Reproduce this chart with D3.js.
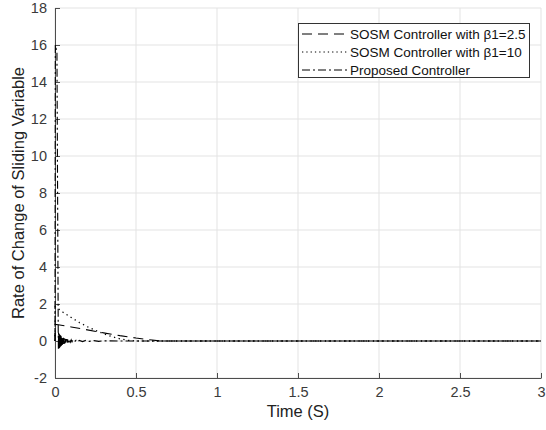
<!DOCTYPE html>
<html><head><meta charset="utf-8">
<script src="https://cdn.jsdelivr.net/npm/d3@7"></script>
<style>body{margin:0;background:#fff}svg{display:block}text{font-family:"Liberation Sans",Arial,sans-serif}</style>
</head><body>
<svg id="c" width="546" height="430"></svg>
<script>
const xTicks = [0, 0.5, 1, 1.5, 2, 2.5, 3];
const yTicks = [-2, 0, 2, 4, 6, 8, 10, 12, 14, 16, 18];
const seriesNames = ["SOSM Controller with \u03b21=2.5", "SOSM Controller with \u03b21=10", "Proposed Controller"];
// beta1 = 2.5 (dashed)
const dashedT = [0, 0.001, 0.02, 0.1, 0.2, 0.3, 0.4, 0.5, 0.6, 0.65, 1, 2, 3];
const dashedV = [0, 0.9, 0.88, 0.76, 0.6, 0.44, 0.29, 0.16, 0.05, 0, 0, 0, 0];
// beta1 = 10 (dotted)
const dottedT = [0, 0.001, 0.02, 0.05, 0.1, 0.15, 0.2, 0.25, 0.3, 0.35, 0.4, 0.45, 0.5, 1, 2, 3];
const dottedV = [0, 1.85, 1.75, 1.55, 1.27, 1.0, 0.77, 0.57, 0.39, 0.24, 0.12, 0.04, 0, 0, 0, 0];
// proposed (dash-dot) with chattering near zero
const propT = [0, 0.002, 0.012, 0.02, 0.021, 0.022, 0.023, 0.024, 0.025, 0.026, 0.027, 0.028, 0.029, 0.030, 0.031, 0.032, 0.033, 0.034, 0.035, 0.036, 0.037, 0.038, 0.039, 0.040, 0.042, 0.044, 0.046, 0.048, 0.050, 0.052, 0.054, 0.056, 0.058, 0.060, 0.063, 0.066, 0.069, 0.072, 0.075, 0.078, 0.081, 0.084, 0.087, 0.090, 0.095, 0.100, 0.105, 0.110, 0.120, 0.130, 0.140, 0.150, 0.170, 0.190, 0.210, 0.240, 0.270, 0.300, 0.4, 1, 2, 3];
const propV = [0, 16, 15.6, 0.45, -0.5, 0.45, -0.42, 0.42, -0.4, 0.38, -0.38, 0.36, -0.35, 0.34, -0.33, 0.32, -0.31, 0.3, -0.29, 0.28, -0.27, 0.26, -0.25, 0.24, -0.22, 0.21, -0.2, 0.19, -0.18, 0.17, -0.16, 0.15, -0.14, 0.13, -0.12, 0.11, -0.1, 0.1, -0.09, 0.09, -0.08, 0.08, -0.07, 0.07, -0.06, 0.06, -0.05, 0.05, -0.04, 0.04, -0.04, 0.03, -0.03, 0.03, -0.02, 0.02, -0.02, 0.01, 0, 0, 0, 0];

const svg = d3.select("#c");
const x = d3.scaleLinear().domain([0, 3]).range([55, 541]);
const y = d3.scaleLinear().domain([-2, 18]).range([378, 8]);
const axisCol = "#4d4d4d";
const font = '"Liberation Sans",Arial,sans-serif';

// grid
svg.append("g").selectAll("line").data(xTicks).join("line")
  .attr("x1", d => x(d)).attr("x2", d => x(d)).attr("y1", y(-2)).attr("y2", y(18))
  .attr("stroke", "#e3e3e3").attr("stroke-width", 1);
svg.append("g").selectAll("line").data(yTicks).join("line")
  .attr("x1", x(0)).attr("x2", x(3)).attr("y1", d => y(d)).attr("y2", d => y(d))
  .attr("stroke", "#e3e3e3").attr("stroke-width", 1);

// axes
const xAxis = d3.axisBottom(x).tickValues(xTicks).tickFormat(d => String(d)).tickSizeInner(-5).tickSizeOuter(0).tickPadding(9);
const gx = svg.append("g").attr("transform", `translate(0,${y(-2)})`).call(xAxis);
const yAxis = d3.axisLeft(y).tickValues(yTicks).tickFormat(d => String(d)).tickSizeInner(-5).tickSizeOuter(0).tickPadding(8);
const gy = svg.append("g").attr("transform", `translate(${x(0)},0)`).call(yAxis);
[gx, gy].forEach(g => {
  g.select(".domain").attr("stroke", axisCol).attr("stroke-width", 1);
  g.selectAll(".tick line").attr("stroke", axisCol);
  g.selectAll(".tick text").attr("fill", "#3a3a3a").style("font-size", "14.5px").style("font-family", font);
});

// lines
const mk = (T, V) => T.map((t, i) => [t, V[i]]);
const line = d3.line().x(d => x(d[0])).y(d => y(d[1]));
const plot = svg.append("g");
plot.append("path").datum(mk(dottedT, dottedV)).attr("d", line)
  .attr("fill", "none").attr("stroke", "#000").attr("stroke-width", 1.3).attr("stroke-dasharray", "1.3,3.5");
plot.append("path").datum(mk(dashedT, dashedV)).attr("d", line)
  .attr("fill", "none").attr("stroke", "#000").attr("stroke-width", 1.1).attr("stroke-dasharray", "10,6");
plot.append("path").datum(mk(propT, propV)).attr("d", line)
  .attr("fill", "none").attr("stroke", "#000").attr("stroke-width", 1.1).attr("stroke-dasharray", "8,3,2,3");

// axis labels
svg.append("text").attr("x", 298).attr("y", 417).attr("text-anchor", "middle")
  .style("font-size", "16.5px").attr("fill", "#222").text("Time (S)");
svg.append("text").attr("transform", `translate(24,${(y(-2) + y(18)) / 2}) rotate(-90)`).attr("text-anchor", "middle")
  .style("font-size", "16.5px").attr("fill", "#222").text("Rate of Change of Sliding Variable");

// legend
const lg = svg.append("g");
lg.append("rect").attr("x", 298.5).attr("y", 23.5).attr("width", 231).attr("height", 54)
  .attr("fill", "#fff").attr("stroke", "#333").attr("stroke-width", 1);
const dashes = ["10,6", "1.3,3", "8,3,2,3"];
seriesNames.forEach((n, i) => {
  const yy = 34 + i * 18;
  lg.append("line").attr("x1", 302).attr("x2", 348).attr("y1", yy).attr("y2", yy)
    .attr("stroke", "#000").attr("stroke-width", 1).attr("stroke-dasharray", dashes[i]);
  lg.append("text").attr("x", 350).attr("y", yy + 5).style("font-size", "13.5px").attr("fill", "#111").text(n);
});
</script>
</body></html>
